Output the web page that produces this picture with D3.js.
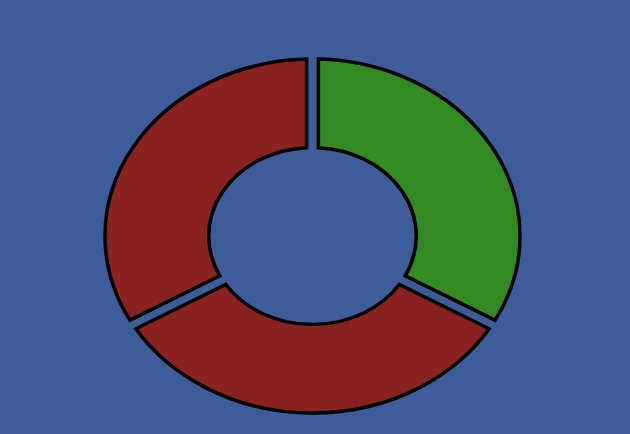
<!DOCTYPE html>
<html><head><meta charset="utf-8">
<script src="https://cdn.jsdelivr.net/npm/d3@7"></script>
<style>html,body{margin:0;padding:0;background:#3d5c99;overflow:hidden}</style>
</head><body>
<svg id="chart" width="630" height="434"></svg>
<script>
const categories = ["A", "B", "C"];
const values = [1, 1, 1];
const colors = ["#338a22", "#8b2222", "#8b2222"];

const W = 630, H = 434;
const svg = d3.select("#chart");
svg.append("rect").attr("width", W).attr("height", H).attr("fill", "#3d5c99");

const cx = 312.5, cy = 236, rx = 207.5, ry = 177;
const outerR = ry, innerR = ry * 0.5;
const pie = d3.pie().sort(null).value(d => d)(values);
const arc = d3.arc().innerRadius(innerR).outerRadius(outerR).padRadius(outerR).padAngle(10 / outerR);

const g = svg.append("g").attr("transform", `translate(${cx},${cy}) scale(${rx / ry},1)`);
g.selectAll("path").data(pie).join("path")
  .attr("d", arc)
  .attr("fill", (d, i) => colors[i])
  .attr("stroke", "#000")
  .attr("stroke-width", 3.5)
  .attr("vector-effect", "non-scaling-stroke")
  .append("title").text((d, i) => categories[i]);
</script>
</body></html>
